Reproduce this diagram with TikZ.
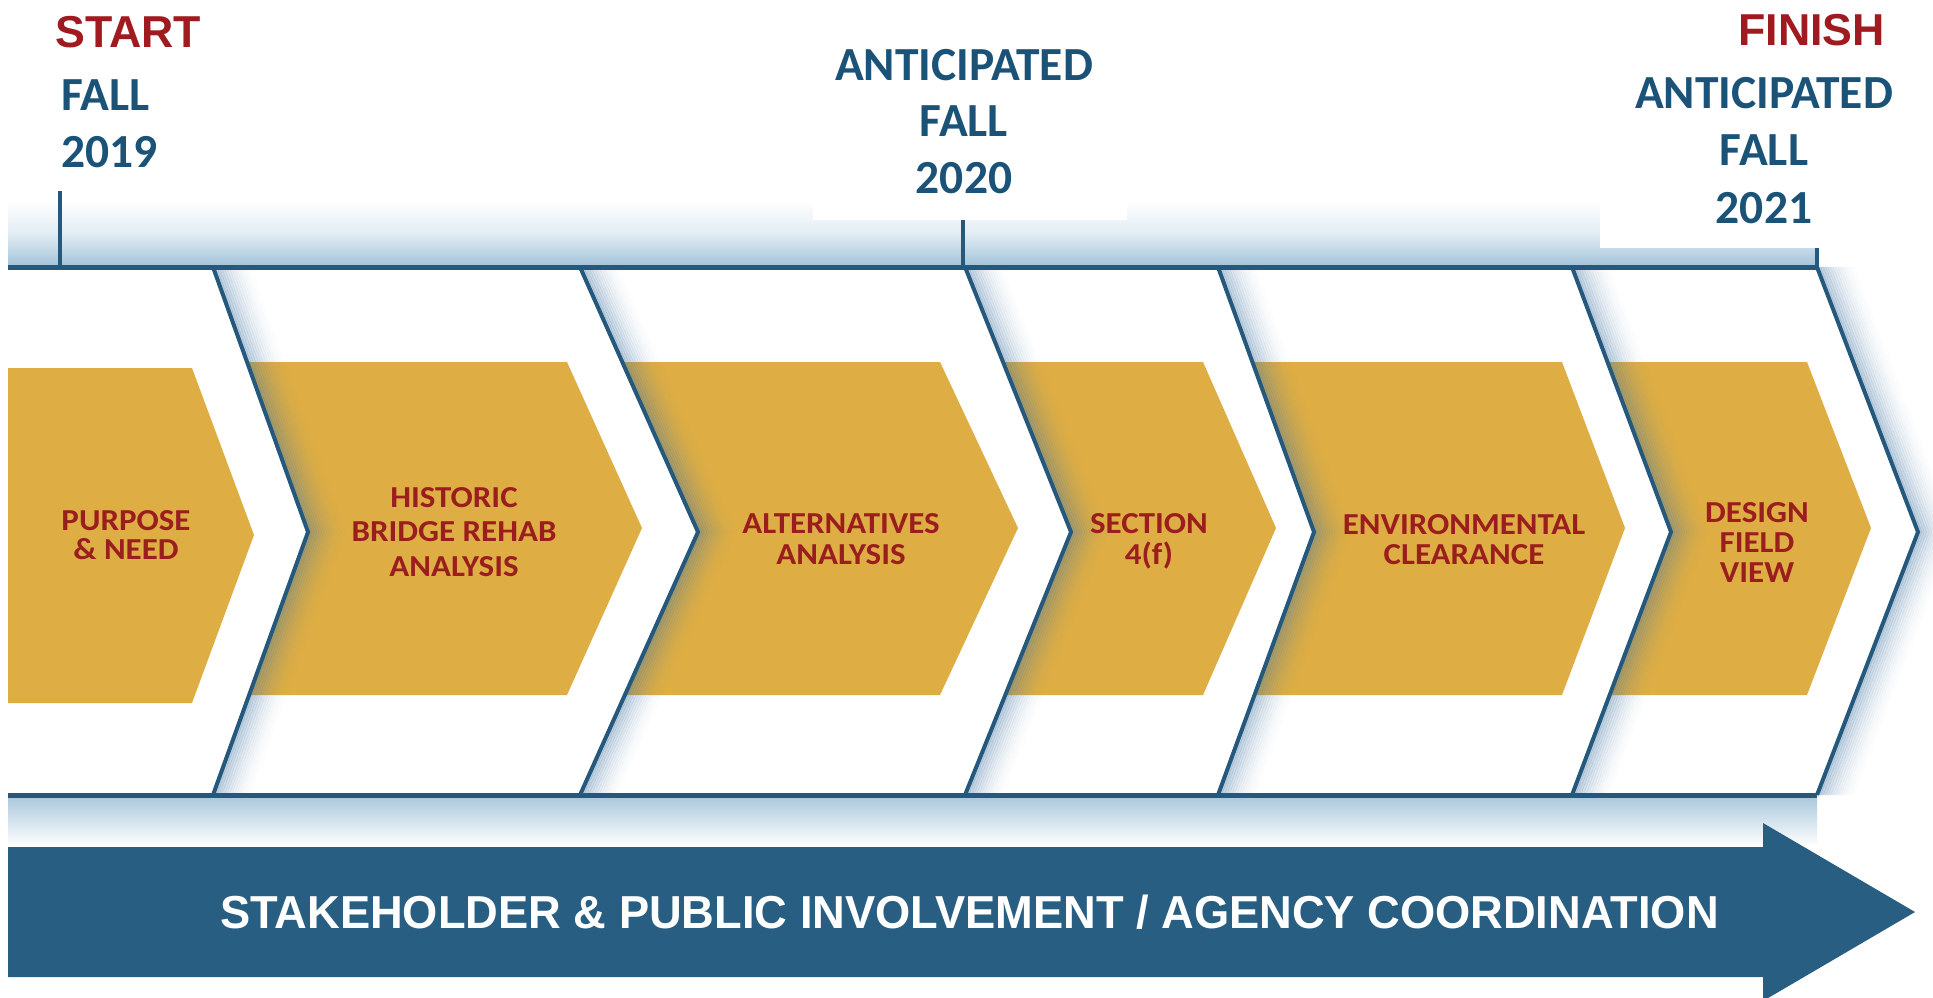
\documentclass[tikz,border=0pt]{standalone}
\usepackage{fontspec}
\usepackage{graphicx}
\newfontfamily\datefont{Carlito}
\newfontfamily\goldfont[FakeStretch=1.08]{Carlito}
\newfontfamily\arialfont{Liberation Sans}
\definecolor{linecol}{RGB}{37,88,125}
\definecolor{bandcol}{RGB}{40,94,130}
\definecolor{datecol}{RGB}{27,83,120}
\definecolor{startred}{RGB}{160,27,32}
\definecolor{goldcol}{RGB}{222,174,68}
\definecolor{goldtext}{RGB}{155,30,30}
\definecolor{glowcol}{RGB}{140,180,208}
\definecolor{shadowcol}{RGB}{70,120,165}
\newcommand{\stk}[2]{\begin{tabular}[t]{@{}#1@{}}#2\end{tabular}}
\tikzset{
  hline/.style={linecol, line width=5pt},
  sepline/.style={linecol, line width=4pt, line join=miter},
  tickline/.style={linecol, line width=4pt},
  goldshape/.style={fill=goldcol},
  goldlbl/.style={inner sep=0pt, anchor=base, text=goldtext, font=\goldfont\bfseries},
  datelbl/.style={inner sep=0pt, anchor=base, text=datecol, font=\datefont\bfseries},
  redlbl/.style={inner sep=0pt, text=startred, font=\arialfont\bfseries\fontsize{44.7}{50}\selectfont},
}
\begin{document}
\begin{tikzpicture}[x=1pt,y=-1pt]
\useasboundingbox (0,0) rectangle (1933,997);
\clip (0,0) rectangle (1933,997);
\fill[white] (0,0) rectangle (1933,997);

% glow bands
\shade[top color=white, bottom color=glowcol!80, middle color=glowcol!25] (8,200) rectangle (1817,266);
\shade[top color=glowcol!75, bottom color=white] (8,796) rectangle (1817,846);

% white boxes behind date labels
\fill[white] (813,0) rectangle (1127,220);
\fill[white] (1600,0) rectangle (1927,248);

% gold chevrons
\fill[goldshape] (8,368) -- (192,368) -- (254,535) -- (192,703) -- (8,703) -- cycle;
\fill[goldshape] (247,362) -- (567,362) -- (642,528) -- (567,695) -- (250,695) -- (308,532) -- cycle;
\fill[goldshape] (622,362) -- (940,362) -- (1018,528) -- (940,695) -- (625,695) -- (698,532) -- cycle;
\fill[goldshape] (1003,362) -- (1203,362) -- (1276,528) -- (1203,695) -- (1006,695) -- (1071,532) -- cycle;
\fill[goldshape] (1252,362) -- (1562,362) -- (1625,528) -- (1562,695) -- (1255,695) -- (1314,532) -- cycle;
\fill[goldshape] (1607,362) -- (1807,362) -- (1871,528) -- (1807,695) -- (1610,695) -- (1671,532) -- cycle;

% shadows right of separators
\foreach \T/\P in {213/308, 580/698, 965/1071, 1218/1314, 1572/1671, 1817/1918} {
  \foreach \k in {1,...,16} {
    \pgfmathsetmacro\op{0.42*(1-\k/17)^2}
    \draw[shadowcol, line width=2.6pt, opacity=\op] (\T+2.5*\k,267) -- (\P+2.5*\k,532) -- (\T+2.5*\k,795);
  }
}

% frame lines
\draw[hline] (8,267) -- (1817,267);
\draw[hline] (8,795) -- (1817,795);
\foreach \T/\P in {213/308, 580/698, 965/1071, 1218/1314, 1572/1671, 1817/1918} {
  \draw[sepline] (\T,267) -- (\P,532) -- (\T,795);
}
\draw[tickline] (60,191) -- (60,267);
\draw[tickline] (963,220) -- (963,267);
\draw[tickline] (1817,248) -- (1817,267);

% big arrow
\fill[bandcol] (8,847) -- (1763,847) -- (1763,823) -- (1915,912) -- (1763,1001) -- (1763,977) -- (8,977) -- cycle;
\node[anchor=base west, inner sep=0pt, text=white] (band) at (220,928)
  {\resizebox{1498pt}{33.5pt}{\arialfont\bfseries STAKEHOLDER \& PUBLIC INVOLVEMENT / AGENCY COORDINATION}};

% top labels
\node[redlbl, anchor=base west] (start) at (55,47) {START};
\node[redlbl, anchor=base east] (finish) at (1885,45) {FINISH};
\node[datelbl, anchor=base west] (d2019) at (61,110) {\fontsize{47.5}{57}\selectfont\stk{l}{FALL\\2019}};
\node[datelbl] (d2020) at (964,80) {\fontsize{47.5}{56.5}\selectfont\stk{c}{ANTICIPATED\\FALL\\2020}};
\node[datelbl] (d2021) at (1764,108) {\fontsize{47.5}{57.5}\selectfont\stk{c}{ANTICIPATED\\FALL\\2021}};

% step labels
\node[goldlbl] (s1) at (126,530) {\fontsize{30.5}{29.5}\selectfont\stk{c}{PURPOSE\\\& NEED}};
\node[goldlbl] (s2) at (454,507) {\fontsize{30.5}{34.5}\selectfont\stk{c}{HISTORIC\\BRIDGE REHAB\\ANALYSIS}};
\node[goldlbl] (s3) at (841,533) {\fontsize{30.5}{31.5}\selectfont\stk{c}{ALTERNATIVES\\ANALYSIS}};
\node[goldlbl] (s4) at (1149,533) {\fontsize{30.5}{31}\selectfont\stk{c}{SECTION\\4(f)}};
\node[goldlbl] (s5) at (1464,534) {\fontsize{30.5}{30.5}\selectfont\stk{c}{ENVIRONMENTAL\\CLEARANCE}};
\node[goldlbl] (s6) at (1757,522) {\fontsize{30.5}{30}\selectfont\stk{c}{DESIGN\\FIELD\\VIEW}};
\end{tikzpicture}
\end{document}
